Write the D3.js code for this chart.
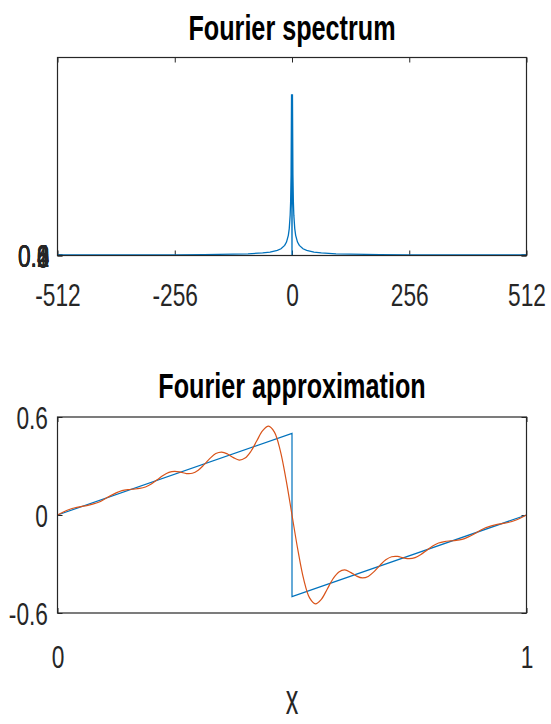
<!DOCTYPE html>
<html>
<head>
<meta charset="utf-8">
<script src="https://cdn.jsdelivr.net/npm/d3@7"></script>
<style>
  body { margin: 0; background: #fff; }
  svg { display: block; }
</style>
</head>
<body>
<svg id="chart" width="551" height="724"></svg>
<script>
// spectrum magnitudes (frequency index -> |X|)
var specFreq = [-512, -448, -384, -320, -256, -192, -128, -96, -64, -48, -32, -24, -16, -12, -8, -6, -4, -3, -2, -1,
                0, 1, 2, 3, 4, 6, 8, 12, 16, 24, 32, 48, 64, 96, 128, 192, 256, 320, 384, 448, 512];
var specMag = [0.5, 0.51, 0.54, 0.6, 0.71, 0.9, 1.31, 1.72, 2.56, 3.41, 5.1, 6.8, 10.19, 13.58, 20.38, 27.17, 40.75, 54.33, 81.49, 162.98,
               0.5, 162.98, 81.49, 54.33, 40.75, 27.17, 20.38, 13.58, 10.19, 6.8, 5.1, 3.41, 2.56, 1.72, 1.31, 0.9, 0.71, 0.6, 0.54, 0.51, 0.5];
var specXTicks = [-512, -256, 0, 256, 512];
var specYTicks = [0, 0.2, 0.4, 0.6, 0.8, 1];

// sawtooth (blue)
var sawX = [0, 0.5, 0.5, 1];
var sawY = [0, 0.5, -0.5, 0];

// fourier approximation (orange)
var approxX = [0, 0.0125, 0.025, 0.0375, 0.05, 0.0625, 0.075, 0.0875, 0.1, 0.1125, 0.125, 0.1375, 0.15, 0.1625, 0.175, 0.1875,
               0.2, 0.2125, 0.225, 0.2375, 0.25, 0.2625, 0.275, 0.2875, 0.3, 0.3125, 0.325, 0.3375, 0.35, 0.3625, 0.375, 0.3875,
               0.4, 0.4125, 0.425, 0.4375, 0.45, 0.4625, 0.475, 0.4875, 0.5,
               0.5125, 0.525, 0.5375, 0.55, 0.5625, 0.575, 0.5875, 0.6, 0.6125, 0.625, 0.6375, 0.65, 0.6625, 0.675, 0.6875,
               0.7, 0.7125, 0.725, 0.7375, 0.75, 0.7625, 0.775, 0.7875, 0.8, 0.8125, 0.825, 0.8375, 0.85, 0.8625, 0.875, 0.8875,
               0.9, 0.9125, 0.925, 0.9375, 0.95, 0.9625, 0.975, 0.9875, 1];
var approxY = [0, 0.0183, 0.0335, 0.0443, 0.0513, 0.0577, 0.0665, 0.0779, 0.0966, 0.1172, 0.1355, 0.1494, 0.1558, 0.1586, 0.1626, 0.1717,
               0.1901, 0.2155, 0.2418, 0.2609, 0.2673, 0.2622, 0.2539, 0.2556, 0.2742, 0.308, 0.3466, 0.3761, 0.3855, 0.3738, 0.3512, 0.336,
               0.3483, 0.3902, 0.4545, 0.5165, 0.5438, 0.5074, 0.3946, 0.2137, 0,
               -0.2137, -0.3946, -0.5074, -0.5438, -0.5165, -0.4545, -0.3902, -0.3483, -0.336, -0.3512, -0.3738, -0.3855, -0.3761, -0.3466, -0.308,
               -0.2742, -0.2556, -0.2539, -0.2622, -0.2673, -0.2609, -0.2418, -0.2155, -0.1901, -0.1717, -0.1626, -0.1586, -0.1558, -0.1494, -0.1355, -0.1172,
               -0.0966, -0.0779, -0.0665, -0.0577, -0.0513, -0.0443, -0.0335, -0.0183, 0];
var approxXTicks = [0, 1];
var approxYTicks = [-0.6, 0, 0.6];

var blue = "#0072BD", orange = "#D95319", axisColor = "#262626";
var fontFam = "'Liberation Sans', Arial, sans-serif";
var squeeze = 0.71;

var left = 57.5, right = 526.5;
var top1 = 57.5, bottom1 = 255.5;
var top2 = 417, bottom2 = 613;

var svg = d3.select("#chart");

// plain hyphen minus, like the reference labels
function plain(d){ return "" + d; }

function styleTicks(g, kind, offset, baseline){
	g.attr("font-family", fontFam).attr("font-size", 32);
	g.select(".domain").remove();
	g.selectAll(".tick line").attr("stroke", axisColor).attr("stroke-width", 1);
	g.selectAll(".tick text")
		.attr("fill", axisColor)
		.attr("transform", "scale(" + squeeze + ",1)")
		.each(function(){
			var t = d3.select(this);
			if(kind == "x"){
				t.attr("y", baseline).attr("dy", null).attr("text-anchor", "middle");
			} else {
				t.attr("x", -offset / squeeze).attr("dy", "0.36em").attr("text-anchor", "end");
			}
		});
}

function frame(topY, bottomY){
	svg.append("rect")
		.attr("x", left).attr("y", topY)
		.attr("width", right - left).attr("height", bottomY - topY)
		.attr("fill", "none").attr("stroke", axisColor).attr("stroke-width", 1.2);
}

function title(text, y){
	svg.append("text")
		.attr("transform", "translate(292," + y + ") scale(0.72,1)")
		.attr("text-anchor", "middle")
		.attr("font-family", fontFam).attr("font-weight", "bold").attr("font-size", 35)
		.attr("fill", "#000")
		.text(text);
}

/*** top panel: spectrum ***/
var x1 = d3.scaleLinear().domain([-512, 512]).range([left, right]);
var y1 = d3.scaleLinear().domain([0, 200]).range([bottom1, top1]);

svg.append("g").attr("transform", "translate(0," + bottom1 + ")")
	.call(d3.axisBottom(x1).tickValues(specXTicks).tickSizeInner(-5).tickSizeOuter(0).tickFormat(plain))
	.call(styleTicks, "x", 0, 51);
svg.append("g").attr("transform", "translate(0," + top1 + ")")
	.call(d3.axisTop(x1).tickValues(specXTicks).tickSizeInner(-5).tickSizeOuter(0).tickFormat(""))
	.call(styleTicks, "x", 0, 0);
svg.append("g").attr("transform", "translate(" + left + ",0)")
	.call(d3.axisLeft(y1).tickValues(specYTicks).tickSizeInner(-5).tickSizeOuter(0).tickFormat(plain))
	.call(styleTicks, "y", 8, 0);
svg.append("g").attr("transform", "translate(" + right + ",0)")
	.call(d3.axisRight(y1).tickValues(specYTicks).tickSizeInner(-5).tickSizeOuter(0).tickFormat(""))
	.call(styleTicks, "y", 0, 0);

var specLine = d3.line()
	.x(function(d, i){ return x1(specFreq[i]); })
	.y(function(d){ return y1(d); });

svg.append("path")
	.datum(specMag)
	.attr("d", specLine)
	.attr("fill", "none")
	.attr("stroke", blue)
	.attr("stroke-width", 1.3);

frame(top1, bottom1);
title("Fourier spectrum", 40);

/*** bottom panel: approximation ***/
var x2 = d3.scaleLinear().domain([0, 1]).range([left, right]);
var y2 = d3.scaleLinear().domain([-0.6, 0.6]).range([bottom2, top2]);

svg.append("g").attr("transform", "translate(0," + bottom2 + ")")
	.call(d3.axisBottom(x2).tickValues(approxXTicks).tickSizeInner(-5).tickSizeOuter(0).tickFormat(plain))
	.call(styleTicks, "x", 0, 55);
svg.append("g").attr("transform", "translate(0," + top2 + ")")
	.call(d3.axisTop(x2).tickValues(approxXTicks).tickSizeInner(-5).tickSizeOuter(0).tickFormat(""))
	.call(styleTicks, "x", 0, 0);
svg.append("g").attr("transform", "translate(" + left + ",0)")
	.call(d3.axisLeft(y2).tickValues(approxYTicks).tickSizeInner(-5).tickSizeOuter(0).tickFormat(plain))
	.call(styleTicks, "y", 9.5, 0);
svg.append("g").attr("transform", "translate(" + right + ",0)")
	.call(d3.axisRight(y2).tickValues(approxYTicks).tickSizeInner(-5).tickSizeOuter(0).tickFormat(""))
	.call(styleTicks, "y", 0, 0);

var sawLine = d3.line()
	.x(function(d, i){ return x2(sawX[i]); })
	.y(function(d){ return y2(d); });

svg.append("path")
	.datum(sawY)
	.attr("d", sawLine)
	.attr("fill", "none")
	.attr("stroke", blue)
	.attr("stroke-width", 1.2);

var approxLine = d3.line()
	.x(function(d, i){ return x2(approxX[i]); })
	.y(function(d){ return y2(d); })
	.curve(d3.curveCatmullRom.alpha(0.5));

svg.append("path")
	.datum(approxY)
	.attr("d", approxLine)
	.attr("fill", "none")
	.attr("stroke", orange)
	.attr("stroke-width", 1.2);

frame(top2, bottom2);
title("Fourier approximation", 398);

svg.append("text")
	.attr("transform", "translate(292,714) scale(0.6,1)")
	.attr("text-anchor", "middle")
	.attr("font-family", fontFam).attr("font-size", 42)
	.attr("fill", axisColor)
	.text("x");
</script>
</body>
</html>
